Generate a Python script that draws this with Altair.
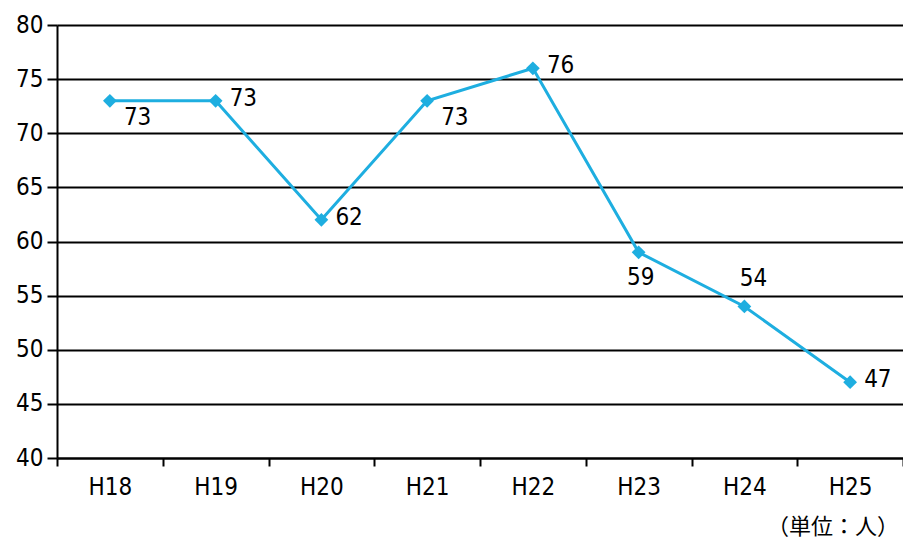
import altair as alt
import pandas as pd

years = ["H18", "H19", "H20", "H21", "H22", "H23", "H24", "H25"]
values = [73, 73, 62, 73, 76, 59, 54, 47]
label_right = ["H19", "H20", "H22", "H25"]
label_below_right = ["H18", "H21"]
label_below = ["H23"]
label_above = ["H24"]
y_ticks = [40, 45, 50, 55, 60, 65, 70, 75, 80]
unit_text = "（単位：人）"

df = pd.DataFrame({"year": years, "value": values})

W, H = 846, 433
LINE = "#1EAEE0"
FONT = "DejaVu Sans Condensed"

x = alt.X("year:N", sort=years, scale=alt.Scale(paddingInner=0, paddingOuter=0),
          axis=alt.Axis(title=None, labelAngle=0, tickBand="extent", tickSize=8,
                        tickWidth=2, tickColor="black", domainColor="black",
                        domainWidth=2, labelFontSize=24, labelFont=FONT,
                        labelColor="black", labelPadding=9, grid=False))
y = alt.Y("value:Q", scale=alt.Scale(domain=[40, 80], nice=False),
          axis=alt.Axis(title=None, values=y_ticks, tickSize=10, tickWidth=2,
                        tickColor="black", domainColor="black", domainWidth=2,
                        labelFontSize=24, labelFont=FONT, labelColor="black",
                        labelPadding=4, grid=True, gridColor="black",
                        gridWidth=2, gridOpacity=1))

base = alt.Chart(df)
line = base.mark_line(color=LINE, strokeWidth=3).encode(x=x, y=y)
pts = base.mark_point(shape="diamond", filled=True, color=LINE, size=190,
                      opacity=1).encode(x=x, y=y)

def labels(group, **kw):
    return base.transform_filter(
        alt.FieldOneOfPredicate(field="year", oneOf=group)
    ).mark_text(fontSize=24, font=FONT, color="black", **kw).encode(
        x=alt.X("year:N", sort=years), y="value:Q", text="value:Q")

t1 = labels(label_right, align="left", baseline="middle", dx=14, dy=-2)
t2 = labels(label_below_right, align="left", baseline="middle", dx=14, dy=17)
t3 = labels(label_below, align="center", baseline="middle", dx=2, dy=26)
t4 = labels(label_above, align="center", baseline="middle", dx=9, dy=-27)

unit = alt.Chart(pd.DataFrame({"t": [unit_text]})).mark_text(
    font="Noto Sans CJK JP", fontSize=22, align="right", baseline="middle",
    color="black").encode(x=alt.value(W - 4), y=alt.value(H + 69), text="t:N")

chart = alt.layer(line, pts, t1, t2, t3, t4, unit).properties(
    width=W, height=H,
    autosize=alt.AutoSizeParams(type="none"),
    padding={"left": 49, "top": 17, "right": 0, "bottom": 86},
).configure_view(stroke=None).configure(background="white")

chart.save("out.html", embed_options={"renderer": "svg", "actions": False})
